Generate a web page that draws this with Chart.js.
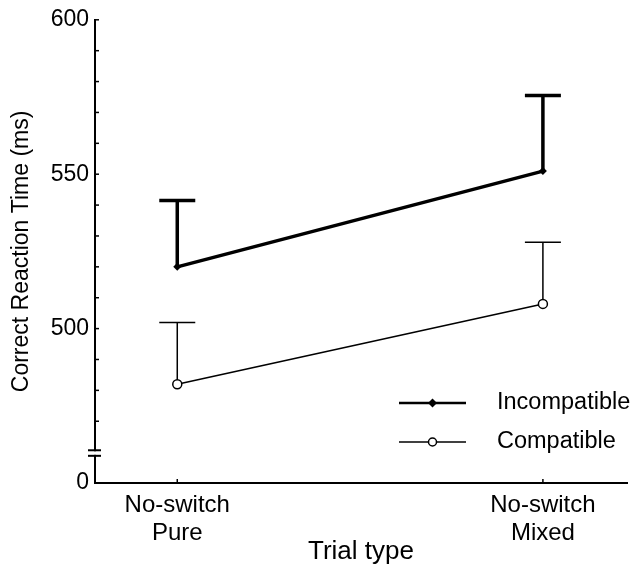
<!DOCTYPE html>
<html>
<head>
<meta charset="utf-8">
<script src="https://cdn.jsdelivr.net/npm/chart.js@4.4.1/dist/chart.umd.min.js"></script>
<style>
  html, body { margin: 0; padding: 0; background: #fff; }
  #wrap { width: 633px; height: 568px; }
</style>
</head>
<body>
<div id="wrap"><canvas id="chart"></canvas></div>
<script>
const categories = [["No-switch", "Pure"], ["No-switch", "Mixed"]];
const xpos = [0, 1];
const incompatible = [520, 551];
const incompatibleErr = [21.5, 24.5];
const compatible = [482, 508];
const compatibleErr = [20, 20];
const yLabels = { 600: "600", 550: "550", 500: "500", 450: "0" };

const ctx = document.getElementById("chart");
const font = "'Liberation Sans', Arial, sans-serif";

// error bars go up only, drawn under the markers
const errorbars = {
  id: "errorbars",
  beforeDatasetsDraw(chart) {
    const c = chart.ctx;
    const ys = chart.scales.y;
    chart.data.datasets.forEach((ds, i) => {
      const meta = chart.getDatasetMeta(i);
      c.save();
      c.strokeStyle = "#000";
      c.lineWidth = ds.borderWidth;
      meta.data.forEach((pt, j) => {
        const top = ys.getPixelForValue(ds.data[j].y + ds.err[j]);
        c.beginPath();
        c.moveTo(pt.x, pt.y);
        c.lineTo(pt.x, top);
        c.moveTo(pt.x - 18, top);
        c.lineTo(pt.x + 18, top);
        c.stroke();
      });
      c.restore();
    });
  }
};

// inward ticks, axis break and legend
const decor = {
  id: "decor",
  afterDraw(chart) {
    const c = chart.ctx;
    const ys = chart.scales.y, xs = chart.scales.x;
    const ax = chart.chartArea.left;
    c.save();
    c.strokeStyle = "#000";
    c.lineWidth = 1.5;
    for (let v = 470; v <= 600; v += 10) {
      const y = ys.getPixelForValue(v);
      c.beginPath(); c.moveTo(ax, y); c.lineTo(ax + 4, y); c.stroke();
    }
    xpos.forEach(v => {
      const x = xs.getPixelForValue(v);
      const y = chart.chartArea.bottom;
      c.beginPath(); c.moveTo(x, y); c.lineTo(x, y - 4); c.stroke();
    });
    // axis break
    const b1 = ys.getPixelForValue(460.6), b2 = ys.getPixelForValue(458.8);
    c.fillStyle = "#fff";
    c.fillRect(ax - 3, b1 + 1, 6, b2 - b1 - 2);
    c.lineWidth = 2;
    [b1, b2].forEach(y => {
      c.beginPath(); c.moveTo(ax - 7, y); c.lineTo(ax + 6, y); c.stroke();
    });

    // legend
    const lx = 399, lw = 67, tx = 497;
    const rows = [403, 442];
    chart.data.datasets.forEach((ds, i) => {
      const y = rows[i];
      c.lineWidth = i === 0 ? 2.5 : 1.3;
      c.beginPath(); c.moveTo(lx, y); c.lineTo(lx + lw, y); c.stroke();
      const mx = lx + lw / 2;
      if (ds.pointStyle === "circle") {
        c.beginPath(); c.arc(mx, y, 4, 0, Math.PI * 2);
        c.fillStyle = "#fff"; c.fill();
        c.lineWidth = ds.pointBorderWidth; c.stroke();
      } else {
        c.beginPath();
        c.moveTo(mx, y - 4.5); c.lineTo(mx + 4.5, y); c.lineTo(mx, y + 4.5); c.lineTo(mx - 4.5, y);
        c.closePath(); c.fillStyle = "#000"; c.fill();
      }
      c.fillStyle = "#000";
      c.font = "23.5px " + font;
      c.textBaseline = "middle";
      c.textAlign = "left";
      c.fillText(ds.label, tx, y);
    });
    c.restore();
  }
};

new Chart(ctx, {
  type: "line",
  data: {
    datasets: [
      {
        label: "Incompatible",
        data: xpos.map((x, i) => ({ x: x, y: incompatible[i] })),
        err: incompatibleErr,
        borderColor: "#000",
        backgroundColor: "#000",
        borderWidth: 3.5,
        pointStyle: "rectRot",
        pointRadius: 4,
        pointBackgroundColor: "#000",
        pointBorderWidth: 0
      },
      {
        label: "Compatible",
        data: xpos.map((x, i) => ({ x: x, y: compatible[i] })),
        err: compatibleErr,
        borderColor: "#000",
        backgroundColor: "#fff",
        borderWidth: 1.5,
        pointStyle: "circle",
        pointRadius: 4.5,
        pointBackgroundColor: "#fff",
        pointBorderColor: "#000",
        pointBorderWidth: 1.5
      }
    ]
  },
  options: {
    responsive: true,
    maintainAspectRatio: false,
    animation: false,
    layout: { padding: { top: 18, right: 1, left: 0, bottom: 0 } },
    plugins: { legend: { display: false }, tooltip: { enabled: false } },
    scales: {
      x: {
        type: "linear",
        min: -0.225,
        max: 1.23,
        afterBuildTicks: s => { s.ticks = xpos.map(v => ({ value: v })); },
        afterFit: s => { s.height = 85; },
        grid: { display: false, drawTicks: false },
        border: { display: true, color: "#000", width: 2 },
        ticks: {
          color: "#000",
          padding: 8,
          maxRotation: 0,
          autoSkip: false,
          font: { family: font, size: 24, lineHeight: 1.17 },
          callback: v => categories[v]
        },
        title: {
          display: true,
          text: "Trial type",
          color: "#000",
          font: { family: font, size: 26 },
          padding: { top: 0, bottom: 1 }
        }
      },
      y: {
        min: 450,
        max: 600,
        afterBuildTicks: s => {
          const t = [];
          for (let v = 450; v <= 600; v += 10) t.push({ value: v });
          s.ticks = t;
        },
        afterFit: s => { s.width = 95; },
        grid: { display: false, drawTicks: false },
        border: { display: true, color: "#000", width: 2 },
        ticks: {
          color: "#000",
          padding: 6,
          autoSkip: false,
          font: { family: font, size: 23 },
          callback: v => yLabels[v] || ""
        },
        title: {
          display: true,
          text: "Correct Reaction Time (ms)",
          color: "#000",
          font: { family: font, size: 23 },
          padding: { top: 8, bottom: 0 }
        }
      }
    }
  },
  plugins: [errorbars, decor]
});
</script>
</body>
</html>
